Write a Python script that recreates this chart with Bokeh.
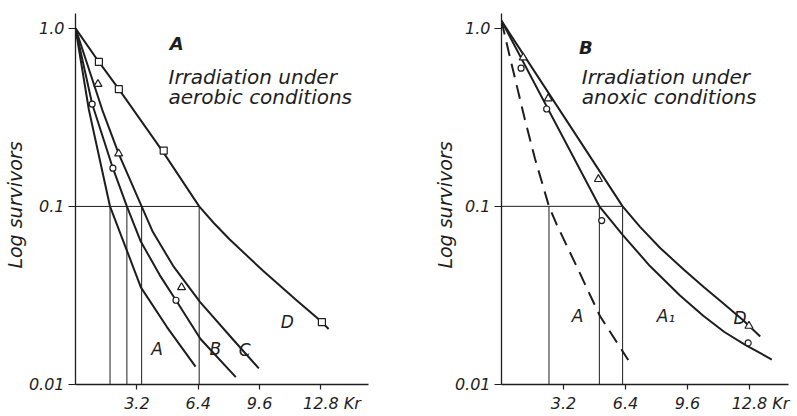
import math
from bokeh.plotting import figure
from bokeh.models import FixedTicker, Label, Range1d
from bokeh.layouts import row
from bokeh.embed import file_html
from bokeh.resources import INLINE

# ---------------- data: panel A (aerobic) ----------------
aer_A_x = [0, 0.70, 1.80, 2.64, 3.41, 4.77, 6.26]
aer_A_y = [1.0, 0.348, 0.1, 0.058, 0.0351, 0.021, 0.0126]
aer_B_x = [0, 0.87, 1.95, 2.68, 3.39, 4.40, 5.24, 6.52, 8.36]
aer_B_y = [1.0, 0.376, 0.164, 0.1, 0.064, 0.041, 0.0297, 0.018, 0.011]
aer_C_x = [0, 1.40, 2.25, 3.45, 4.03, 5.09, 6.50, 8.25, 9.56]
aer_C_y = [1.0, 0.348, 0.198, 0.1, 0.072, 0.0464, 0.029, 0.0177, 0.0123]
aer_D_x = [0, 1.22, 2.26, 4.60, 6.45, 7.20, 8.03, 9.78, 11.54, 12.85, 13.20]
aer_D_y = [1.0, 0.648, 0.456, 0.200, 0.1, 0.081, 0.0654, 0.0435, 0.0296, 0.0224, 0.0205]

aer_sq_x = [1.22, 2.26, 4.60, 12.85]
aer_sq_y = [0.648, 0.456, 0.206, 0.0224]
aer_tri_x = [1.17, 2.25, 5.53]
aer_tri_y = [0.487, 0.198, 0.0351]
aer_circ_x = [0.87, 1.95, 5.24]
aer_circ_y = [0.376, 0.164, 0.0297]

aer_d10 = [1.80, 2.68, 3.45, 6.45]

# ---------------- data: panel B (anoxic) ----------------
anx_A_x = [0, 0.44, 1.21, 1.73, 2.45, 2.85, 4.05, 5.08, 6.54]
anx_A_y = [1.1, 0.684, 0.306, 0.185, 0.1, 0.079, 0.042, 0.0242, 0.0137]
anx_A1_x = [0, 5.05, 6.25, 7.66, 9.21, 10.41, 11.50, 12.60, 13.95]
anx_A1_y = [1.1, 0.1, 0.0692, 0.0462, 0.0316, 0.0243, 0.0197, 0.0166, 0.0138]
anx_D_x = [0, 6.25, 7.15, 8.20, 9.40, 10.45, 11.50, 12.50, 13.35]
anx_D_y = [1.1, 0.1, 0.0767, 0.0582, 0.0442, 0.0351, 0.0282, 0.0228, 0.0186]

anx_tri_x = [1.12, 2.41, 5.00, 12.77]
anx_tri_y = [0.684, 0.403, 0.142, 0.0213]
anx_circ_x = [1.01, 2.33, 5.17, 12.73]
anx_circ_y = [0.597, 0.352, 0.0832, 0.0171]

anx_d10 = [2.45, 5.05, 6.25]

x_ticks = [3.2, 6.4, 9.6, 12.8]
x_tick_labels = ["3.2", "6.4", "9.6", "12.8"]
x_unit = "Kr"
y_ticks = [0.01, 0.1, 1.0]
y_tick_labels = ["0.01", "0.1", "1.0"]
y_title = "Log survivors"

FONT = "DejaVu Sans"
INK = "#1e1e1e"
NB = "\u00a0"


def make_panel(width, height, x_end, y_end, bl, br, bt, bb, title_standoff):
    p = figure(width=width, height=height, output_backend="svg", toolbar_location=None,
               y_axis_type="log", x_range=Range1d(0, x_end), y_range=Range1d(0.00999, y_end),
               min_border_left=bl, min_border_right=br, min_border_top=bt, min_border_bottom=bb)
    p.outline_line_color = None
    p.grid.visible = False
    for ax in (p.xaxis[0], p.yaxis[0]):
        ax.axis_line_color = INK
        ax.axis_line_width = 1.3
        ax.major_tick_line_color = INK
        ax.major_tick_line_width = 1.2
        ax.minor_tick_line_color = None
        ax.major_tick_in = 0
        ax.major_label_text_font = FONT
        ax.major_label_text_font_style = "italic"
        ax.major_label_text_font_size = "16px"
        ax.major_label_text_color = INK
    labels = list(x_tick_labels)
    # unit written after the last tick label; leading padding keeps "12.8" centred on its tick
    labels[-1] = NB * 4 + "\u200a" + labels[-1] + NB + x_unit
    p.xaxis.ticker = FixedTicker(ticks=x_ticks)
    p.xaxis.major_label_overrides = {t: s for t, s in zip(x_ticks, labels)}
    p.xaxis.major_tick_out = 5
    p.xaxis.major_label_standoff = 4
    p.yaxis.ticker = FixedTicker(ticks=y_ticks)
    p.yaxis.major_label_overrides = {t: s for t, s in zip(y_ticks, y_tick_labels)}
    p.yaxis.major_tick_out = 7
    p.yaxis.major_label_standoff = 4
    p.yaxis.axis_label = y_title + NB * 2
    p.yaxis.axis_label_text_font = FONT
    p.yaxis.axis_label_text_font_style = "italic"
    p.yaxis.axis_label_text_font_size = "19px"
    p.yaxis.axis_label_text_color = INK
    p.yaxis.axis_label_standoff = title_standoff
    return p


def txt(p, x, y, s, size="17px", align="left", base="alphabetic", style="italic"):
    p.add_layout(Label(x=x, y=y, text=s, text_font=FONT, text_font_style=style,
                       text_font_size=size, text_color=INK, text_align=align,
                       text_baseline=base))


def ref_lines(p, d10, xmax):
    p.segment(x0=[0], y0=[0.1], x1=[xmax], y1=[0.1], line_color=INK, line_width=1)
    p.segment(x0=d10, y0=[0.01] * len(d10), x1=d10, y1=[0.1] * len(d10),
              line_color=INK, line_width=1)


# ---------------- panel A ----------------
p1 = make_panel(400, 415, 15.28, 1.213, 75, 32, 13, 29, 0)
ref_lines(p1, aer_d10, aer_d10[-1])
for xs, ys in [(aer_A_x, aer_A_y), (aer_B_x, aer_B_y), (aer_C_x, aer_C_y), (aer_D_x, aer_D_y)]:
    p1.line(xs, ys, line_color=INK, line_width=2, line_join="round")
p1.scatter(aer_sq_x, aer_sq_y, marker="square", size=7, fill_color="white", line_color=INK, line_width=1.2)
p1.scatter(aer_tri_x, aer_tri_y, marker="triangle", size=8, fill_color="white", line_color=INK, line_width=1.2)
p1.scatter(aer_circ_x, aer_circ_y, marker="circle", size=6, fill_color="white", line_color=INK, line_width=1.2)

txt(p1, 5.28, 0.821, "A", size="18px", align="center", style="bold italic")
txt(p1, 4.85, 0.536, "Irradiation under", size="20px")
txt(p1, 4.85, 0.414, "aerobic conditions", size="20px")
txt(p1, 4.26, 0.0159, "A", align="center")
txt(p1, 7.29, 0.0159, "B", align="center")
txt(p1, 8.82, 0.01555, "C", align="center")
txt(p1, 11.04, 0.0224, "D", align="center")

# ---------------- panel B ----------------
p2 = make_panel(397, 415, 14.81, 1.21, 101, 9, 10, 27, -4)
ref_lines(p2, anx_d10, anx_d10[-1])
p2.line(anx_A_x, anx_A_y, line_color=INK, line_width=2, line_dash="14 8")
p2.line(anx_A1_x, anx_A1_y, line_color=INK, line_width=2, line_join="round")
p2.line(anx_D_x, anx_D_y, line_color=INK, line_width=2, line_join="round")
p2.scatter(anx_tri_x, anx_tri_y, marker="triangle", size=8, fill_color="white", line_color=INK, line_width=1.2)
p2.scatter(anx_circ_x, anx_circ_y, marker="circle", size=6, fill_color="white", line_color=INK, line_width=1.2)

txt(p2, 4.35, 0.776, "B", size="18px", align="center", style="bold italic")
txt(p2, 4.14, 0.530, "Irradiation under", size="20px")
txt(p2, 4.14, 0.411, "anoxic conditions", size="20px")
txt(p2, 3.92, 0.0242, "A", align="center")
txt(p2, 8.01, 0.0242, "A\u2081")
txt(p2, 12.31, 0.0237, "D", align="center")

layout = row(p1, p2)
open("out.html", "w").write(file_html(layout, INLINE))
